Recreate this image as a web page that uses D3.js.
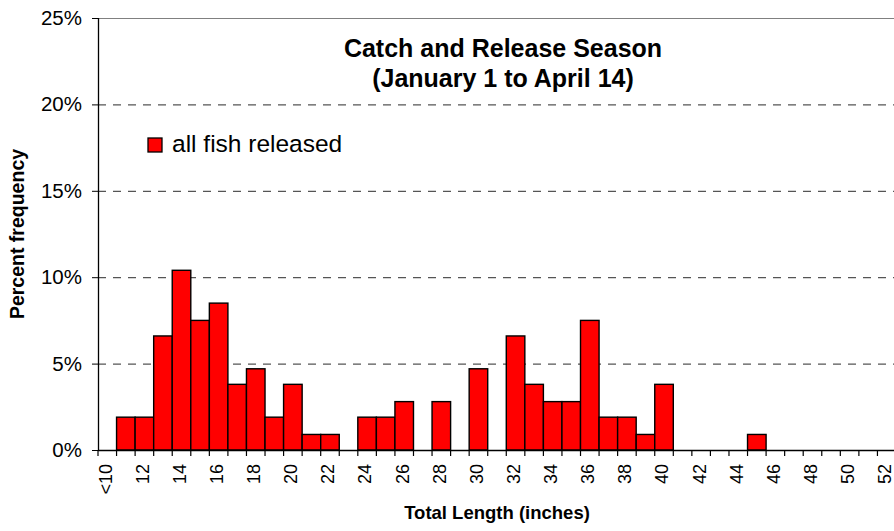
<!DOCTYPE html>
<html>
<head>
<meta charset="utf-8">
<script src="https://cdn.jsdelivr.net/npm/d3@7"></script>
<style>
  body { margin: 0; background: #fff; }
  svg { font-family: Arial, "Liberation Sans", sans-serif; }
</style>
</head>
<body>
<div id="chart-area"></div>
<script>
// length classes (inches), "<10" then 11..52
var lengths = ["<10", "11", "12", "13", "14", "15", "16", "17", "18", "19", "20",
  "21", "22", "23", "24", "25", "26", "27", "28", "29", "30",
  "31", "32", "33", "34", "35", "36", "37", "38", "39", "40",
  "41", "42", "43", "44", "45", "46", "47", "48", "49", "50", "51", "52"];

// percent frequency of all fish released
var released = [0, 1.9, 1.9, 6.6, 10.4, 7.5, 8.5, 3.8, 4.7, 1.9, 3.8,
  0.9, 0.9, 0, 1.9, 1.9, 2.8, 0, 2.8, 0, 4.7,
  0, 6.6, 3.8, 2.8, 2.8, 7.5, 1.9, 1.9, 0.9, 3.8,
  0, 0, 0, 0, 0.9, 0, 0, 0, 0, 0, 0, 0];

var yTicks = [0, 5, 10, 15, 20, 25];

var titleLines = ["Catch and Release Season", "(January 1 to April 14)"];

var data = lengths.map(function(d, i) {
  return { len: d, pct: released[i] };
});

var W = 894, H = 531;
var margin = { left: 98, top: 18, right: -2, bottom: 81 };
var width = W - margin.left - margin.right;
var height = H - margin.top - margin.bottom;

var svg = d3.select("#chart-area")
  .append("svg")
  .attr("width", W)
  .attr("height", H);

var g = svg.append("g")
  .attr("transform", "translate(" + margin.left + "," + margin.top + ")");

var x = d3.scaleBand()
  .domain(lengths)
  .range([0, width])
  .padding(0);

var y = d3.scaleLinear()
  .domain([0, 25])
  .range([height, 0]);

// gridlines
g.selectAll(".grid")
  .data(yTicks.filter(d => d > 0 && d < 25))
  .enter()
  .append("line")
  .attr("class", "grid")
  .attr("x1", 0)
  .attr("x2", width)
  .attr("y1", d => y(d) + 0.5)
  .attr("y2", d => y(d) + 0.5)
  .attr("stroke", "#555")
  .attr("stroke-width", 1.2)
  .attr("stroke-dasharray", "8,7");

// plot border top
g.append("line")
  .attr("x1", 0)
  .attr("x2", width)
  .attr("y1", y(25) + 0.5)
  .attr("y2", y(25) + 0.5)
  .attr("stroke", "#808080")
  .attr("stroke-width", 1);

// bars
g.selectAll(".bar")
  .data(data.filter(d => d.pct > 0))
  .enter()
  .append("rect")
  .attr("class", "bar")
  .attr("x", d => x(d.len))
  .attr("y", d => y(d.pct))
  .attr("width", x.bandwidth())
  .attr("height", d => height - y(d.pct))
  .attr("fill", "#ff0000")
  .attr("stroke", "#000")
  .attr("stroke-width", 1.4);

// x axis line and boundary ticks
g.append("line")
  .attr("x1", 0)
  .attr("x2", width)
  .attr("y1", height + 0.5)
  .attr("y2", height + 0.5)
  .attr("stroke", "#000")
  .attr("stroke-width", 1.3);

var bounds = lengths.map(d => x(d)).concat([width]);
g.selectAll(".xtick")
  .data(bounds)
  .enter()
  .append("line")
  .attr("class", "xtick")
  .attr("x1", d => d)
  .attr("x2", d => d)
  .attr("y1", height)
  .attr("y2", height + 6)
  .attr("stroke", "#000")
  .attr("stroke-width", 1.2);

// x labels (every other class)
g.selectAll(".xlabel")
  .data(lengths.filter((d, i) => i % 2 === 0))
  .enter()
  .append("text")
  .attr("class", "xlabel")
  .attr("transform", d => "translate(" + (x(d) + x.bandwidth() / 2 - 1) + "," + (height + 14) + ") rotate(-90)")
  .attr("text-anchor", "end")
  .attr("dy", "0.3em")
  .attr("font-size", "18px")
  .attr("fill", "#000")
  .text(d => d);

// y axis
var yAxisGroup = g.append("g");
var yAxisCall = d3.axisLeft(y)
  .tickValues(yTicks)
  .tickSize(6)
  .tickPadding(10)
  .tickFormat(d => d + "%");
yAxisGroup.call(yAxisCall);
yAxisGroup.select(".domain")
  .attr("d", "M0.5," + y(25) + "V" + height)
  .attr("stroke-width", 1.3);
yAxisGroup.selectAll("text")
  .attr("font-size", "20.5px")
  .attr("font-family", "Arial, 'Liberation Sans', sans-serif")
  .attr("fill", "#000");

// title
svg.selectAll(".title")
  .data(titleLines)
  .enter()
  .append("text")
  .attr("class", "title")
  .attr("x", 503)
  .attr("y", (d, i) => 57 + i * 30)
  .attr("text-anchor", "middle")
  .attr("font-size", "25px")
  .attr("font-weight", "bold")
  .text(d => d);

// legend
svg.append("rect")
  .attr("x", 148)
  .attr("y", 138)
  .attr("width", 14)
  .attr("height", 14)
  .attr("fill", "#ff0000")
  .attr("stroke", "#000")
  .attr("stroke-width", 1.3);

svg.append("text")
  .attr("x", 172)
  .attr("y", 152)
  .attr("font-size", "24.5px")
  .text("all fish released");

// axis titles
svg.append("text")
  .attr("x", 497)
  .attr("y", 519)
  .attr("text-anchor", "middle")
  .attr("font-size", "18.5px")
  .attr("font-weight", "bold")
  .text("Total Length (inches)");

svg.append("text")
  .attr("transform", "translate(24,234) rotate(-90)")
  .attr("text-anchor", "middle")
  .attr("font-size", "19.5px")
  .attr("font-weight", "bold")
  .text("Percent frequency");
</script>
</body>
</html>
